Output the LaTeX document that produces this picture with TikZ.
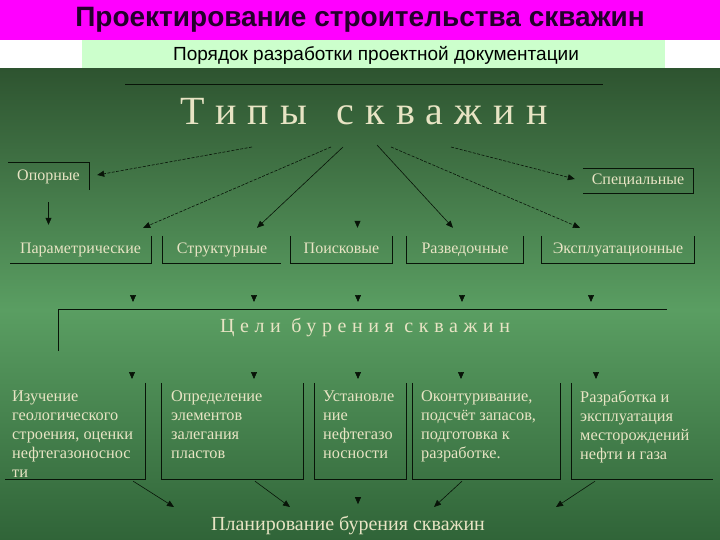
\documentclass[tikz,border=0pt]{standalone}
\usepackage{fontspec}
\setmainfont{Liberation Serif}
\setsansfont{Liberation Sans}
\newfontfamily\spacedserif[LetterSpace=28]{Liberation Serif}
\usetikzlibrary{arrows.meta}

\definecolor{topbar}{RGB}{255,0,255}
\definecolor{subbar}{RGB}{204,255,204}
\definecolor{greentop}{RGB}{46,84,48}
\definecolor{greenmid}{RGB}{90,158,98}
\definecolor{greenbot}{RGB}{48,100,56}
\definecolor{paletext}{RGB}{232,228,196}
\definecolor{titletext}{RGB}{36,0,44}
\definecolor{inkline}{RGB}{8,20,8}

\begin{document}
\begin{tikzpicture}[x=1pt,y=-1pt]
		\tikzstyle{frame} = [rectangle, inner sep=0pt, text=paletext, text height=11pt, text depth=3pt, font=\fontsize{16}{18}\selectfont]
		\tikzstyle{goal} = [anchor=north west, inner sep=0pt, align=left, text=paletext, font=\fontsize{16.3}{19}\selectfont]
		\tikzstyle{edge} = [draw=inkline, line width=0.8pt]
		\tikzstyle{arrow} = [draw=inkline, line width=0.6pt, -{Triangle[width=6pt,length=7pt]}]
		\tikzstyle{dasharrow} = [arrow, dash pattern=on 3pt off 1.5pt]
		\useasboundingbox (0,0) rectangle (720,540);
		\fill[white] (0,0) rectangle (720,70);
		\fill[topbar] (0,0) rectangle (720,40);
		\fill[subbar] (82,40) rectangle (665,69);
		\begin{scope}[y=1pt]
			\shade[top color=greentop, bottom color=greenmid] (0,-69) rectangle (720,-310);
			\shade[top color=greenmid, bottom color=greenbot] (0,-310) rectangle (720,-540);
		\end{scope}
		\node (heading) at (360,20) [text=titletext, font=\sffamily\bfseries\fontsize{28}{30}\selectfont] {Проектирование строительства скважин};
		\node (order) at (376,55) [font=\sffamily\fontsize{19}{21}\selectfont] {Порядок разработки проектной документации};
		\draw [edge] (125,84) -- (603,84);
		\node (types) at (364,112) [text=paletext, font=\spacedserif\fontsize{40}{44}\selectfont] {Типы\hspace{8pt} скважин};
		\node (opor) at (48.5,176.5) [frame, minimum width=81pt, minimum height=27pt] {Опорные};
		\node (spec) at (638,181) [frame, minimum width=110pt, minimum height=24pt] {Специальные};
		\node (param) at (80.5,249.5) [frame, minimum width=141pt, minimum height=27pt] {Параметрические};
		\node (struct) at (222,249.5) [frame, minimum width=118pt, minimum height=27pt] {Структурные};
		\node (poisk) at (341.5,249.5) [frame, minimum width=101pt, minimum height=27pt] {Поисковые};
		\node (razved) at (465,249.5) [frame, minimum width=116pt, minimum height=27pt] {Разведочные};
		\node (explo) at (618,249.5) [frame, minimum width=152pt, minimum height=27pt] {Эксплуатационные};
		\draw [edge] (opor.north west) -- (opor.north east) -- (opor.south east);
		\draw [edge] (spec.north west) -- (spec.north east) -- (spec.south east) -- (spec.south west);
		\draw [edge] (param.north east) -- (param.south east) -- (param.south west);
		\draw [edge] (struct.north west) -- (struct.south west) -- (struct.south east);
		\draw [edge] (poisk.north west) -- (poisk.south west) -- (poisk.south east) -- (poisk.north east);
		\draw [edge] (razved.north west) -- (razved.south west) -- (razved.south east) -- (razved.north east);
		\draw [edge] (explo.north west) -- (explo.south west) -- (explo.south east) -- (explo.north east);
		\coordinate (fromTypes1) at (252,147);
		\coordinate (fromTypes2) at (331,147);
		\coordinate (fromTypes3) at (343,147);
		\coordinate (fromTypes4) at (377,145);
		\coordinate (fromTypes5) at (391,147);
		\coordinate (fromTypes6) at (451,147);
		\draw [dasharrow] (fromTypes1) -- ([xshift=8pt,yshift=1.5pt]opor.east);
		\draw [dasharrow] (fromTypes2) -- ([xshift=-8pt,yshift=8pt]param.north east);
		\draw [arrow] (fromTypes3) -- ([xshift=35pt,yshift=8pt]struct.north);
		\draw [arrow] (fromTypes4) -- ([xshift=-12pt,yshift=8pt]razved.north);
		\draw [dasharrow] (fromTypes5) -- ([xshift=-38pt,yshift=8pt]explo.north);
		\draw [dasharrow] (fromTypes6) -- ([xshift=-8pt,yshift=2pt]spec.west);
		\draw [arrow, shorten >=11pt] ([yshift=-12pt]opor.south) -- (opor.south |- param.north);
		\draw [arrow] ([xshift=16pt,yshift=14pt]poisk.north) -- ([xshift=16pt,yshift=8pt]poisk.north);
		\node (aims) at (363,330.5) [rectangle, inner sep=0pt, minimum width=608pt, minimum height=41pt] {};
		\draw [edge] (aims.south west) -- (aims.north west) -- (aims.north east);
		\node (aimsText) at (365,327) [text=paletext, font=\spacedserif\fontsize{20}{22}\selectfont] {Цели бурения скважин};
		\foreach \x in {133,254,358,462,591}
			\draw [arrow] (\x,295) -- (\x,302);
		\foreach \x in {132,254,358,461,596}
			\draw [arrow] (\x,372) -- (\x,379);
		\node (izuch) at (75,431) [frame, minimum width=140pt, minimum height=96pt] {};
		\node (opred) at (232.5,431) [frame, minimum width=141pt, minimum height=96pt] {};
		\node (ustan) at (360.5,431) [frame, minimum width=91pt, minimum height=96pt] {};
		\node (okont) at (486.5,431) [frame, minimum width=147pt, minimum height=96pt] {};
		\node (razrab) at (642.5,431) [frame, minimum width=141pt, minimum height=96pt] {};
		\draw [edge] (izuch.north east) -- (izuch.south east) -- (izuch.south west);
		\draw [edge] (opred.north west) -- (opred.south west) -- (opred.south east) -- (opred.north east);
		\draw [edge] (ustan.north west) -- (ustan.south west) -- (ustan.south east) -- (ustan.north east);
		\draw [edge] (okont.north west) -- (okont.south west) -- (okont.south east) -- (okont.north east);
		\draw [edge] (razrab.north west) -- (razrab.south west) -- (razrab.south east);
		\node (izuchText) at (12,391) [goal] {Изучение\\геологического\\строения, оценки\\нефтегазоноснос\\ти};
		\node (opredText) at (171,391) [goal] {Определение\\элементов\\залегания\\пластов};
		\node (ustanText) at (323,391) [goal] {Установле\\ние\\нефтегазо\\носности};
		\node (okontText) at (421,391) [goal] {Оконтуривание,\\подсчёт запасов,\\подготовка к\\разработке.};
		\node (razrabText) at (580,391) [goal] {Разработка и\\эксплуатация\\месторождений\\нефти и газа};
		\node (plan) at (348,525) [text=paletext, font=\fontsize{20}{22}\selectfont] {Планирование бурения скважин};
		\coordinate (toPlan1) at (174,507);
		\coordinate (toPlan2) at (290,507);
		\coordinate (toPlan3) at (434,507);
		\coordinate (toPlan4) at (556,507);
		\draw [arrow] ([xshift=-12pt,yshift=-2pt]izuch.south east) -- (toPlan1);
		\draw [arrow] ([xshift=22.5pt,yshift=-2pt]opred.south) -- (toPlan2);
		\draw [arrow] ([xshift=-2.5pt,yshift=-18pt]ustan.south) -- ([xshift=-2.5pt,yshift=-25pt]ustan.south);
		\draw [arrow] ([xshift=-24.5pt,yshift=-2pt]okont.south) -- (toPlan3);
		\draw [arrow] ([xshift=-47.5pt,yshift=-2pt]razrab.south) -- (toPlan4);
\end{tikzpicture}
\end{document}
